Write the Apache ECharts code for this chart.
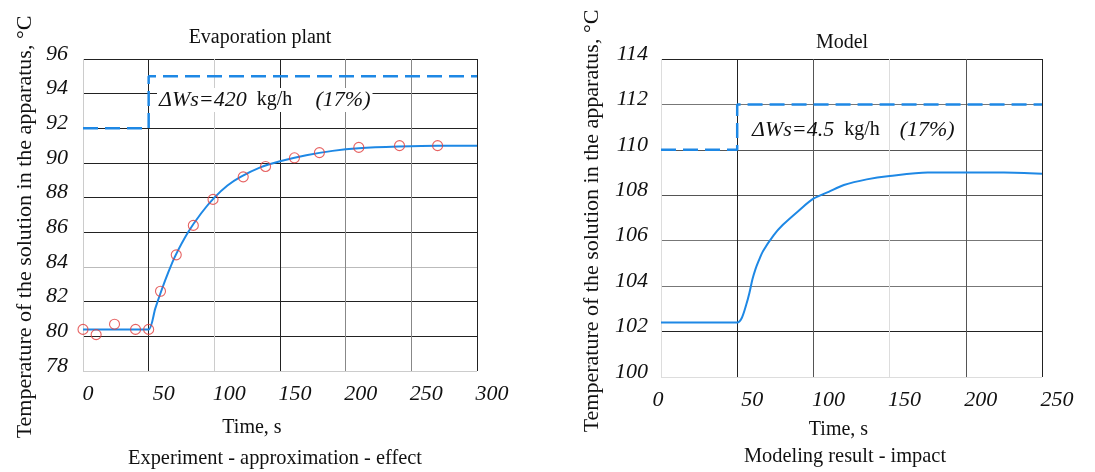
<!DOCTYPE html>
<html>
<head>
<meta charset="utf-8">
<script src="https://cdn.jsdelivr.net/npm/echarts@6/dist/echarts.min.js"></script>
<style>
  html, body { margin: 0; padding: 0; background: #fff; }
  #main { width: 1095px; height: 472px; }
</style>
</head>
<body>
<div id="main"></div>
<script>
// experiment (left panel)
var timeExp = [0, 10, 24, 40, 50, 59, 71, 84, 99, 122, 139, 161, 180, 210, 241, 270];
var tempExp = [80.4, 80.1, 80.7, 80.4, 80.4, 82.6, 84.7, 86.4, 87.9, 89.2, 89.8, 90.3, 90.6, 90.9, 91.0, 91.0];
// approximation curve
var timeFit = [0, 40, 50, 55, 60, 65, 70, 80, 90, 100, 110, 120, 135, 150, 170, 190, 210, 240, 270, 300];
var tempFit = [80.4, 80.4, 80.4, 81.6, 82.7, 83.7, 84.6, 86.0, 87.1, 88.0, 88.7, 89.2, 89.75, 90.1, 90.45, 90.7, 90.85, 90.95, 91.0, 91.0];
// input step (dashed), left
var timeStepL = [0, 50, 50, 300];
var stepL = [92, 92, 95, 95];

// model (right panel)
var timeModel = [0, 40, 50, 53, 56, 58, 60, 62, 64, 67, 74, 80, 90, 100, 110, 120, 135, 150, 175, 200, 225, 250];
var tempModel = [102.4, 102.4, 102.4, 102.6, 103.2, 103.7, 104.3, 104.75, 105.1, 105.55, 106.25, 106.7, 107.3, 107.85, 108.15, 108.45, 108.7, 108.85, 109.0, 109.0, 109.0, 108.95];
var timeStepR = [0, 50, 50, 250];
var stepR = [110, 110, 112, 112];

function pairs(xs, ys) {
    return xs.map(function(x, i) { return [x, ys[i]]; });
}

var serif = '"Liberation Serif", "DejaVu Serif", serif';
var blue = '#1e88e5';
var red = '#e03c3c';

// x tick labels sit a bit right of their gridline, "0" less so
function xLabel(zeroShift) {
    return {
        margin: 12,
        fontFamily: serif, fontStyle: 'italic', fontSize: 22, color: '#111',
        formatter: function(v) { return v === 0 ? '{z|0}' : '{n|' + v + '}'; },
        rich: {
            n: { fontFamily: serif, fontStyle: 'italic', fontSize: 22, color: '#111', padding: [0, 0, 0, 30] },
            z: { fontFamily: serif, fontStyle: 'italic', fontSize: 22, color: '#111', padding: zeroShift }
        }
    };
}

function yLabel(margin) {
    return {
        margin: margin,
        fontFamily: serif, fontStyle: 'italic', fontSize: 22, color: '#111',
        verticalAlign: 'bottom', lineHeight: 10
    };
}

var nameStyle = { fontFamily: serif, fontSize: 20, color: '#111' };

var myChart = echarts.init(document.getElementById('main'));

var option = {
    animation: false,
    title: [
        { text: 'Evaporation plant', left: 260, top: 28, textAlign: 'center', padding: 0,
          textStyle: { fontFamily: serif, fontSize: 20, fontWeight: 'normal', color: '#111' } },
        { text: 'Model', left: 842, top: 33, textAlign: 'center', padding: 0,
          textStyle: { fontFamily: serif, fontSize: 20, fontWeight: 'normal', color: '#111' } },
        { text: 'Experiment - approximation - effect', left: 275, top: 449, textAlign: 'center', padding: 0,
          textStyle: { fontFamily: serif, fontSize: 20.4, fontWeight: 'normal', color: '#111' } },
        { text: 'Modeling result - impact', left: 845, top: 447, textAlign: 'center', padding: 0,
          textStyle: { fontFamily: serif, fontSize: 20.4, fontWeight: 'normal', color: '#111' } }
    ],
    grid: [
        { left: 83, top: 59, width: 394, height: 312 },
        { left: 661, top: 59, width: 381, height: 318 }
    ],
    xAxis: [{
        gridIndex: 0, type: 'value', min: 0, max: 300, interval: 50,
        name: 'Time, s', nameLocation: 'middle', nameGap: 47,
        nameTextStyle: Object.assign({ padding: [0, 56, 0, 0] }, nameStyle),
        axisLine: { show: false }, axisTick: { show: false },
        axisLabel: xLabel([0, 0, 0, 10]),
        splitLine: { lineStyle: { color: ['#ccc', '#222', '#ccc', '#222', '#888', '#888', '#222'] } }
    }, {
        gridIndex: 1, type: 'value', min: 0, max: 250, interval: 50,
        name: 'Time, s', nameLocation: 'middle', nameGap: 43,
        nameTextStyle: Object.assign({ padding: [0, 26, 0, 0] }, nameStyle),
        axisLine: { show: false }, axisTick: { show: false },
        axisLabel: xLabel([0, 6, 0, 0]),
        splitLine: { lineStyle: { color: ['#ddd', '#222', '#555', '#ddd', '#555', '#222'] } }
    }],
    yAxis: [{
        gridIndex: 0, type: 'value', min: 78, max: 96, interval: 2,
        name: 'Temperature of the solution in the apparatus, \u00b0C',
        nameLocation: 'middle', nameRotate: 90, nameGap: 47,
        nameTextStyle: { fontFamily: serif, fontSize: 22, color: '#111', padding: [0, 24, 0, 0] },
        axisLine: { show: false }, axisTick: { show: false },
        axisLabel: yLabel(15),
        splitLine: { lineStyle: { color: ['#ccc', '#222', '#222', '#bbb', '#222', '#222', '#222', '#222', '#222', '#222'] } }
    }, {
        gridIndex: 1, type: 'value', min: 100, max: 114, interval: 2,
        name: 'Temperature of the solution in the apparatus, \u00b0C',
        nameLocation: 'middle', nameRotate: 90, nameGap: 58,
        nameTextStyle: { fontFamily: serif, fontSize: 22, color: '#111', padding: [0, 6, 0, 0] },
        axisLine: { show: false }, axisTick: { show: false },
        axisLabel: yLabel(13),
        splitLine: { lineStyle: { color: ['#ddd', '#222', '#777', '#777', '#555', '#555', '#777', '#222'] } }
    }],
    graphic: [{
        type: 'text', left: 157, top: 88, z: 50,
        style: {
            text: '{a|\u0394Ws=420}   {b|kg/h}       {a|(17%)}',
            backgroundColor: '#fff', padding: [1, 2, 1, 2],
            rich: {
                a: { fontFamily: serif, fontStyle: 'italic', fontSize: 22, fill: '#111' },
                b: { fontFamily: serif, fontSize: 20, fill: '#111' }
            }
        }
    }, {
        type: 'text', left: 752, top: 119, z: 50,
        style: {
            text: '{a|\u0394Ws=4.5}   {b|kg/h}      {a|(17%)}',
            rich: {
                a: { fontFamily: serif, fontStyle: 'italic', fontSize: 22, fill: '#111' },
                b: { fontFamily: serif, fontSize: 20, fill: '#111' }
            }
        }
    }],
    series: [{
        name: 'step', type: 'line', xAxisIndex: 0, yAxisIndex: 0,
        data: pairs(timeStepL, stepL), symbol: 'none', z: 3,
        lineStyle: { color: blue, width: 2.5, type: [15, 7] }
    }, {
        name: 'approximation', type: 'line', xAxisIndex: 0, yAxisIndex: 0,
        data: pairs(timeFit, tempFit), symbol: 'none', z: 4,
        smooth: 0.25,
        lineStyle: { color: blue, width: 2 }
    }, {
        name: 'experiment', type: 'scatter', xAxisIndex: 0, yAxisIndex: 0,
        data: pairs(timeExp, tempExp), symbol: 'circle', symbolSize: 10, z: 5,
        itemStyle: { color: 'rgba(0,0,0,0)', borderColor: red, borderWidth: 1.1 }
    }, {
        name: 'step model', type: 'line', xAxisIndex: 1, yAxisIndex: 1,
        data: pairs(timeStepR, stepR), symbol: 'none', z: 3,
        lineStyle: { color: blue, width: 2.5, type: [15, 7] }
    }, {
        name: 'model', type: 'line', xAxisIndex: 1, yAxisIndex: 1,
        data: pairs(timeModel, tempModel), symbol: 'none', z: 4,
        smooth: 0.3,
        lineStyle: { color: blue, width: 2 }
    }]
};

myChart.setOption(option);
</script>
</body>
</html>
